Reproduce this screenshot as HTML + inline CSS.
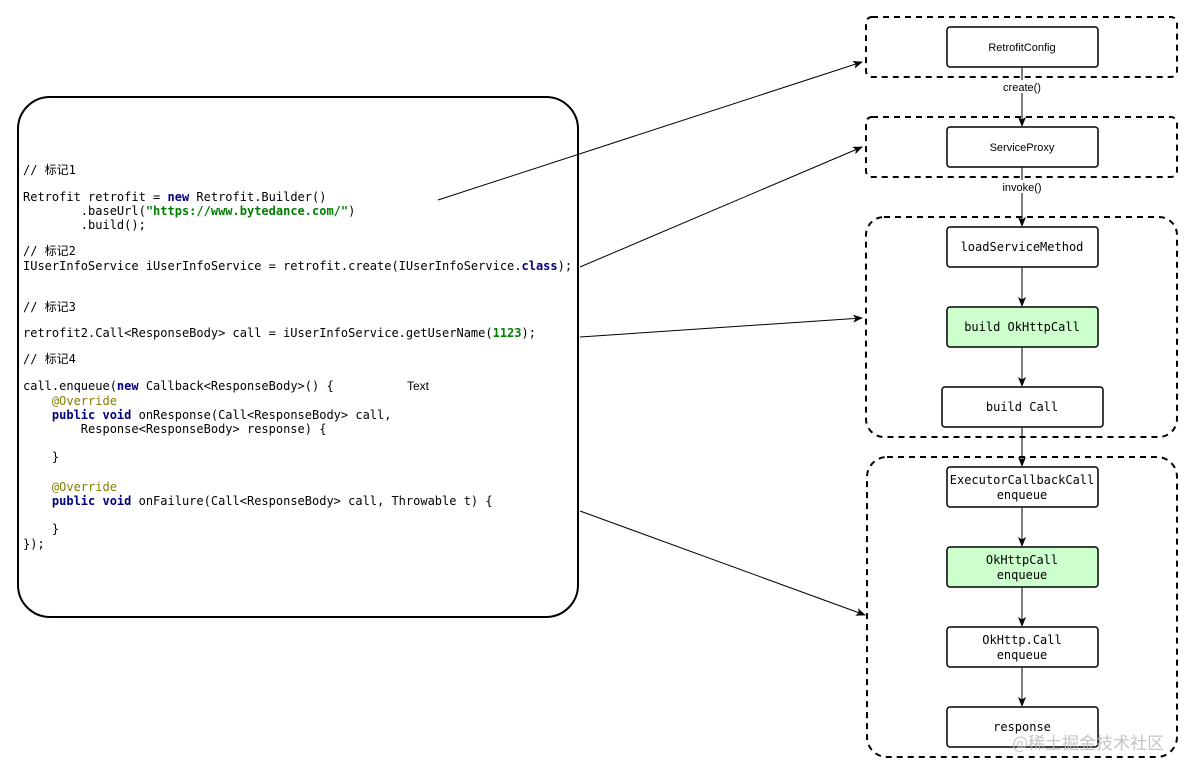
<!DOCTYPE html>
<html><head><meta charset="utf-8"><style>
html,body{margin:0;padding:0;background:#fff;}
svg{display:block;}
.c{font-family:"DejaVu Sans Mono","Liberation Mono","Noto Sans CJK SC",monospace;font-size:12px;fill:#000;}
.k{fill:#000080;font-weight:bold;}
.s{fill:#008000;font-weight:bold;}
.a{fill:#808000;}
.m{font-family:"DejaVu Sans Mono","Liberation Mono",monospace;font-size:12px;fill:#000;}
.h{font-family:"Liberation Sans",sans-serif;font-size:11px;fill:#000;}
</style></head><body>
<svg width="1194" height="774" viewBox="0 0 1194 774" xmlns="http://www.w3.org/2000/svg">
<defs><marker id="ar" markerWidth="10" markerHeight="8" refX="9" refY="4" orient="auto" markerUnits="userSpaceOnUse"><path d="M0,0 L10,4 L0,8 L2.5,4 z" fill="#000"/></marker></defs>
<rect x="18" y="97" width="560" height="520" rx="32" fill="#fff" stroke="#000" stroke-width="2"/>
<g class="c">
<text x="23" y="174">// 标记1</text>
<text x="23" y="201">Retrofit retrofit = <tspan class="k">new</tspan> Retrofit.Builder()</text>
<text x="80.8" y="215">.baseUrl(<tspan class="s">"https://www.bytedance.com/"</tspan>)</text>
<text x="80.8" y="229">.build();</text>
<text x="23" y="255">// 标记2</text>
<text x="23" y="270">IUserInfoService iUserInfoService = retrofit.create(IUserInfoService.<tspan class="k">class</tspan>);</text>
<text x="23" y="311">// 标记3</text>
<text x="23" y="337">retrofit2.Call&lt;ResponseBody&gt; call = iUserInfoService.getUserName(<tspan class="s">1123</tspan>);</text>
<text x="23" y="363">// 标记4</text>
<text x="23" y="390">call.enqueue(<tspan class="k">new</tspan> Callback&lt;ResponseBody&gt;() {</text>
<text x="51.9" y="405" class="a">@Override</text>
<text x="51.9" y="419"><tspan class="k">public void</tspan> onResponse(Call&lt;ResponseBody&gt; call,</text>
<text x="80.8" y="433">Response&lt;ResponseBody&gt; response) {</text>
<text x="51.9" y="461">}</text>
<text x="51.9" y="491" class="a">@Override</text>
<text x="51.9" y="505"><tspan class="k">public void</tspan> onFailure(Call&lt;ResponseBody&gt; call, Throwable t) {</text>
<text x="51.9" y="533">}</text>
<text x="23" y="548">});</text>
</g>
<text x="407" y="390" class="h" style="font-size:12px">Text</text>

<g stroke="#000" stroke-width="1" fill="none" marker-end="url(#ar)">
<line x1="438" y1="200" x2="862" y2="62"/>
<line x1="580" y1="267" x2="862" y2="147"/>
<line x1="580" y1="337" x2="862" y2="318"/>
<line x1="580" y1="511" x2="865" y2="615"/>
<line x1="1022" y1="67" x2="1022" y2="126"/>
<line x1="1022" y1="167" x2="1022" y2="226"/>
<line x1="1022" y1="267" x2="1022" y2="306"/>
<line x1="1022" y1="347" x2="1022" y2="386"/>
<line x1="1022" y1="427" x2="1022" y2="466"/>
<line x1="1022" y1="507" x2="1022" y2="546"/>
<line x1="1022" y1="587" x2="1022" y2="626"/>
<line x1="1022" y1="667" x2="1022" y2="706"/>
</g>

<g fill="none" stroke="#000" stroke-width="2" stroke-dasharray="6,5">
<rect x="866" y="17" width="311" height="60" rx="6"/>
<rect x="866" y="117" width="311" height="60" rx="6"/>
<rect x="866" y="217" width="311" height="220" rx="18"/>
<rect x="867" y="457" width="310" height="300" rx="20"/>
</g>

<rect x="1000" y="80" width="44" height="13" fill="#fff"/>
<text x="1022" y="91" class="h" text-anchor="middle">create()</text>
<rect x="1000" y="180" width="44" height="13" fill="#fff"/>
<text x="1022" y="191" class="h" text-anchor="middle">invoke()</text>

<g stroke="#000" stroke-width="1.5">
<rect x="947" y="27" width="151" height="40" rx="3" fill="#fff"/>
<rect x="947" y="127" width="151" height="40" rx="3" fill="#fff"/>
<rect x="947" y="227" width="151" height="40" rx="3" fill="#fff"/>
<rect x="947" y="307" width="151" height="40" rx="3" fill="#ccffcc"/>
<rect x="942" y="387" width="161" height="40" rx="3" fill="#fff"/>
<rect x="947" y="467" width="151" height="40" rx="3" fill="#fff"/>
<rect x="947" y="547" width="151" height="40" rx="3" fill="#ccffcc"/>
<rect x="947" y="627" width="151" height="40" rx="3" fill="#fff"/>
<rect x="947" y="707" width="151" height="40" rx="3" fill="#fff"/>
</g>
<g text-anchor="middle">
<text x="1022" y="51" class="h">RetrofitConfig</text>
<text x="1022" y="151" class="h">ServiceProxy</text>
<text x="1022" y="251" class="m">loadServiceMethod</text>
<text x="1022" y="331" class="m">build OkHttpCall</text>
<text x="1022" y="411" class="m">build Call</text>
<text x="1022" y="484" class="m">ExecutorCallbackCall</text>
<text x="1022" y="499" class="m">enqueue</text>
<text x="1022" y="564" class="m">OkHttpCall</text>
<text x="1022" y="579" class="m">enqueue</text>
<text x="1022" y="644" class="m">OkHttp.Call</text>
<text x="1022" y="659" class="m">enqueue</text>
<text x="1022" y="731" class="m">response</text>
</g>
<text x="1012" y="749" style="font-family:'Noto Sans CJK SC',sans-serif;font-size:17px;fill:#bbb;opacity:0.85">@稀土掘金技术社区</text>
</svg>
</body></html>
